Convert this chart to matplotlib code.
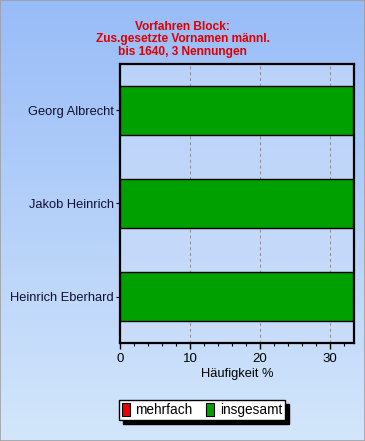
import numpy as np
import matplotlib
matplotlib.use("Agg")
import matplotlib.pyplot as plt
from matplotlib.patches import Patch
from matplotlib.colors import LinearSegmentedColormap

plt.rcParams['font.family'] = ['Liberation Sans', 'DejaVu Sans']

# data
names = ["Georg Albrecht", "Jakob Heinrich", "Heinrich Eberhard"]
insgesamt = [33.33, 33.33, 33.33]
legend_labels = ["mehrfach", "insgesamt"]
title = "Vorfahren Block:\nZus.gesetzte Vornamen männl.\nbis 1640, 3 Nennungen"

fig = plt.figure(figsize=(3.65, 4.41), dpi=100)

# background gradient over the whole figure
bg = fig.add_axes([0, 0, 1, 1], zorder=-10)
cmap = LinearSegmentedColormap.from_list("bg", ["#98bcf8", "#d3e6fb"])
bg.imshow(np.linspace(0, 1, 256).reshape(-1, 1), aspect="auto", cmap=cmap,
          extent=[0, 1, 0, 1])
bg.set_xlim(0, 1)
bg.set_ylim(0, 1)
bg.axis("off")
# thin frame around the picture
bg.plot([0.001, 0.999, 0.999, 0.001, 0.001], [0.001, 0.001, 0.999, 0.999, 0.001],
        color="#a0a0a0", lw=1.2, transform=bg.transAxes, clip_on=False)

ax = fig.add_axes([0.3288, 0.2222, 0.6411, 0.6327])
ax.set_facecolor((0.8, 0.87, 0.98, 0.6))

y = np.arange(len(names))
ax.barh(y, insgesamt, height=0.52, color="#00a000", edgecolor="black",
        linewidth=1, zorder=3)
ax.set_yticks(y)
ax.set_yticklabels(names, fontsize=9.3, color="#101030")
ax.set_ylim(2.5, -0.5)
ax.set_xlim(0, 33.45)
ax.set_xticks([0, 10, 20, 30])
ax.set_xticks(np.arange(0, 34, 2), minor=True)
ax.tick_params(axis="x", labelsize=9.5, length=4, width=1, colors="black")
ax.tick_params(axis="x", which="minor", length=2.5, width=0.8)
ax.tick_params(axis="y", length=3, width=0.8, pad=1.5)
ax.grid(True, axis="x", color="#8a8a8a", linestyle=(0, (3, 3)), linewidth=0.7,
        zorder=1)
ax.set_axisbelow(True)
for s in ax.spines.values():
    s.set_linewidth(1.6)
    s.set_color("black")
ax.set_xlabel("Häufigkeit %", fontsize=9.3, labelpad=2)

fig.text(0.5, 0.953, title, ha="center", va="top", fontsize=8.6,
         fontweight="bold", color="#dd0000", linespacing=1.05)

handles = [Patch(facecolor="#ee0000", edgecolor="black", lw=0.8),
           Patch(facecolor="#00a000", edgecolor="black", lw=0.8)]
fig.legend(handles, legend_labels, loc="center", bbox_to_anchor=(0.553, 0.0703),
           ncol=2, fontsize=9.8, frameon=True, fancybox=False, edgecolor="black",
           framealpha=1, shadow={"color": "black", "alpha": 1, "ox": 3, "oy": -3},
           handlelength=0.6, handleheight=1.1, handletextpad=0.4,
           columnspacing=1.0, borderpad=0.2, borderaxespad=0)

fig.savefig("out.png", dpi=100)
